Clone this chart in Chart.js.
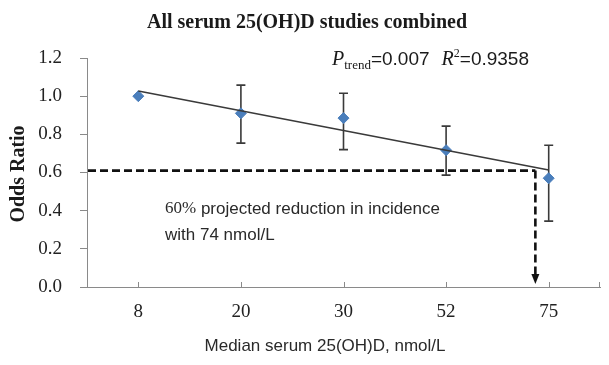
<!DOCTYPE html>
<html>
<head>
<meta charset="utf-8">
<script src="https://cdn.jsdelivr.net/npm/chart.js@4"></script>
<style>
html,body{margin:0;padding:0;background:#fff;}
#wrap{width:609px;height:365px;position:relative;}
</style>
</head>
<body>
<div id="wrap"><canvas id="c" width="609" height="365"></canvas></div>
<script>
// ---- data ----
const categories = ['8', '20', '30', '52', '75'];          // median serum 25(OH)D, nmol/L
const oddsRatio  = [1.00, 0.91, 0.885, 0.717, 0.57];
const ciUpper    = [null, 1.058, 1.015, 0.843, 0.743];
const ciLower    = [null, 0.754, 0.72, 0.586, 0.345];
const trendLine  = [1.027, null, null, null, 0.613];        // fitted trend end points
const projectedOR = [0.61];                                  // projected odds ratio
const projectedPos = [3.87];                                 // position of 74 nmol/L on category axis
const yTickLabels = ['0.0', '0.2', '0.4', '0.6', '0.8', '1.0', '1.2'];

const SERIF = "'Liberation Serif','Times New Roman',serif";
const SANS = "'Liberation Sans',Arial,sans-serif";

const overlay = {
  id: 'overlay',
  beforeDatasetsDraw(chart) {
    const ctx = chart.ctx, x = chart.scales.x, y = chart.scales.y;
    ctx.save();
    ctx.strokeStyle = '#3a3a3a';
    ctx.lineWidth = 1.6;
    for (let i = 0; i < categories.length; i++) {
      if (ciUpper[i] == null) continue;
      const px = x.getPixelForValue(i);
      const yt = y.getPixelForValue(ciUpper[i]);
      const yb = y.getPixelForValue(ciLower[i]);
      ctx.beginPath();
      ctx.moveTo(px, yt); ctx.lineTo(px, yb);
      ctx.moveTo(px - 4.5, yt); ctx.lineTo(px + 4.5, yt);
      ctx.moveTo(px - 4.5, yb); ctx.lineTo(px + 4.5, yb);
      ctx.stroke();
    }
    ctx.restore();
  },
  afterDatasetsDraw(chart) {
    const ctx = chart.ctx, x = chart.scales.x, y = chart.scales.y, a = chart.chartArea;
    ctx.save();
    // inward ticks on x axis
    ctx.strokeStyle = '#8a8a8a';
    ctx.lineWidth = 1;
    ctx.beginPath();
    for (let i = 0; i < categories.length; i++) {
      const px = Math.round(x.getPixelForValue(i)) + 0.5;
      ctx.moveTo(px, a.bottom); ctx.lineTo(px, a.bottom - 5);
    }
    ctx.moveTo(a.right - 0.5, a.bottom); ctx.lineTo(a.right - 0.5, a.bottom - 5);
    ctx.stroke();

    // projection dashed lines
    const py = y.getPixelForValue(projectedOR[0]);
    const px = x.getPixelForValue(projectedPos[0]);
    ctx.strokeStyle = '#111';
    ctx.lineWidth = 2.6;
    ctx.setLineDash([8, 4]);
    ctx.beginPath();
    ctx.moveTo(a.left + 1, py); ctx.lineTo(px, py);
    ctx.stroke();
    ctx.beginPath();
    ctx.moveTo(px, py); ctx.lineTo(px, a.bottom - 12);
    ctx.stroke();
    ctx.setLineDash([]);
    ctx.fillStyle = '#111';
    ctx.beginPath();
    ctx.moveTo(px - 4, a.bottom - 13);
    ctx.lineTo(px + 4, a.bottom - 13);
    ctx.lineTo(px, a.bottom - 3);
    ctx.closePath();
    ctx.fill();
    ctx.restore();
  },
  afterDraw(chart) {
    const ctx = chart.ctx, a = chart.chartArea;
    ctx.save();
    ctx.fillStyle = '#1a1a1a';
    // title
    ctx.font = 'bold 20px ' + SERIF;
    ctx.textAlign = 'center';
    ctx.textBaseline = 'alphabetic';
    ctx.fillText('All serum 25(OH)D studies combined', 307, 28);

    // P trend / R^2
    ctx.textAlign = 'left';
    let cx = 332;
    const base = 65;
    const seg = (t, font, dy) => { ctx.font = font; ctx.fillText(t, cx, base + dy); cx += ctx.measureText(t).width; };
    seg('P', 'italic 20px ' + SERIF, 0);
    seg('trend', '13px ' + SERIF, 4);
    seg('=0.007', '19px ' + SANS, 0);
    cx += 12;
    seg('R', 'italic 20px ' + SERIF, 0);
    seg('2', '12px ' + SERIF, -8);
    seg('=0.9358', '19px ' + SANS, 0);

    // annotation
    ctx.fillStyle = '#2a2a2a';
    ctx.textBaseline = 'middle';
    cx = 165;
    ctx.font = '17px ' + SERIF;
    ctx.fillText('60%', cx, 209);
    cx += ctx.measureText('60%').width;
    ctx.font = '17px ' + SANS;
    ctx.fillText(' projected reduction in incidence', cx, 209);
    ctx.fillText('with 74 nmol/L', 165, 235);

    // x title
    ctx.textAlign = 'center';
    ctx.font = '17px ' + SANS;
    ctx.fillText('Median serum 25(OH)D, nmol/L', 325, 346);

    // y title
    ctx.translate(19, 174);
    ctx.rotate(-Math.PI / 2);
    ctx.font = 'bold 20px ' + SERIF;
    ctx.fillStyle = '#1a1a1a';
    ctx.fillText('Odds Ratio', 0, 0);
    ctx.restore();
  }
};

new Chart(document.getElementById('c'), {
  type: 'line',
  data: {
    labels: categories,
    datasets: [
      {
        label: 'Trend',
        data: trendLine,
        spanGaps: true,
        borderColor: '#3a3a3a',
        borderWidth: 1.6,
        pointRadius: 0,
        fill: false,
        order: 0
      },
      {
        label: 'Odds ratio',
        data: oddsRatio,
        showLine: false,
        pointStyle: 'rectRot',
        pointRadius: 5.5,
        backgroundColor: '#4a7ebb',
        borderColor: '#4a7ebb',
        borderWidth: 1,
        order: 1
      }
    ]
  },
  plugins: [overlay],
  options: {
    responsive: false,
    animation: false,
    devicePixelRatio: 1,
    layout: { padding: { top: 58, right: 9, left: 0, bottom: 0 } },
    plugins: { legend: { display: false }, tooltip: { enabled: false }, title: { display: false } },
    scales: {
      x: {
        type: 'category',
        offset: true,
        grid: { display: true, drawOnChartArea: false, drawTicks: false, offset: false },
        border: { display: true, color: '#8a8a8a', width: 1 },
        ticks: { font: { family: SERIF, size: 19 }, color: '#222', padding: 14, maxRotation: 0 },
        afterFit(s) { s.height = 78; }
      },
      y: {
        min: 0, max: 1.2,
        grid: { display: true, drawOnChartArea: false, drawTicks: true, tickLength: 7, color: '#8a8a8a' },
        border: { display: true, color: '#8a8a8a', width: 1 },
        ticks: {
          stepSize: 0.2,
          font: { family: SERIF, size: 19 },
          color: '#222',
          padding: 18,
          callback: (v, i) => yTickLabels[i]
        },
        afterFit(s) { s.width = 87; }
      }
    }
  }
});
</script>
</body>
</html>
